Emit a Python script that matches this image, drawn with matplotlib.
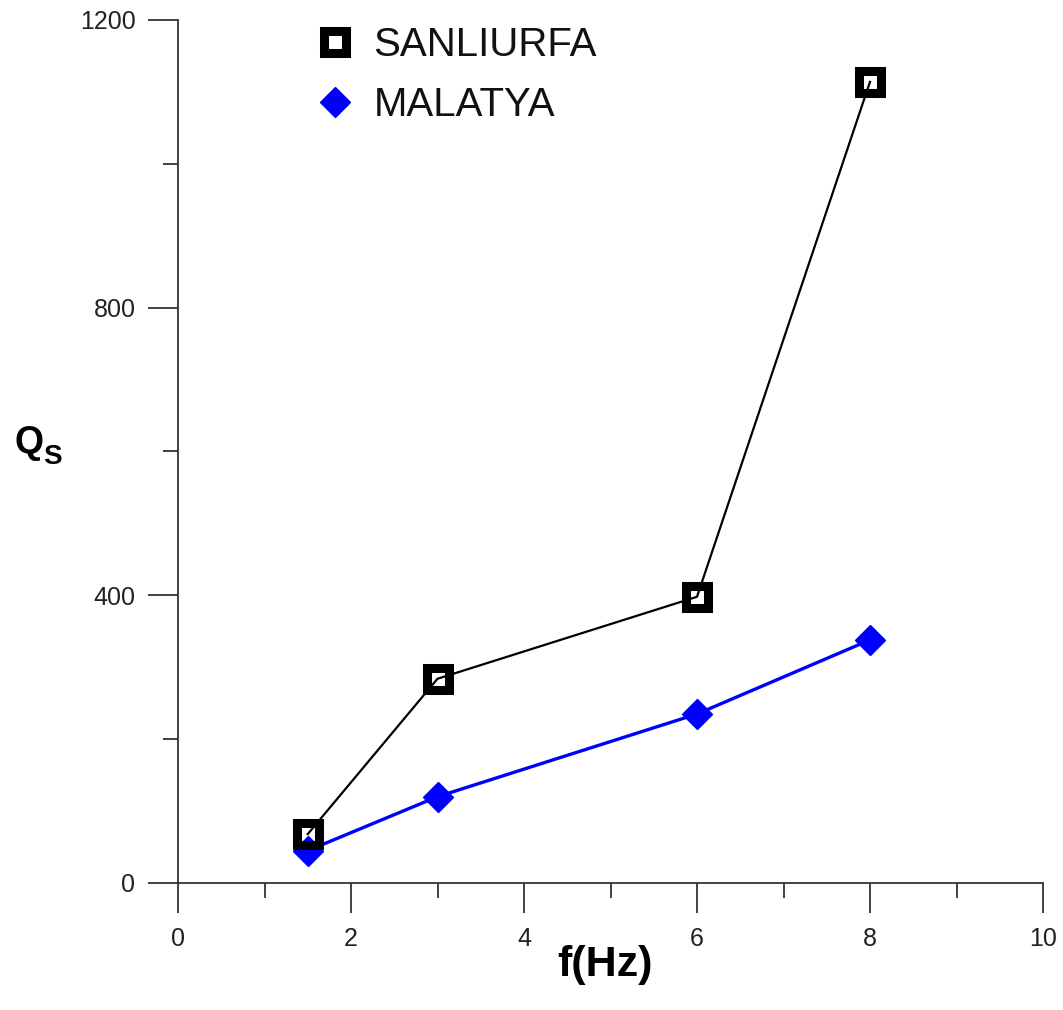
import matplotlib
matplotlib.use("Agg")
import matplotlib.pyplot as plt
from matplotlib.ticker import MultipleLocator

plt.rcParams['font.family'] = ['Liberation Sans', 'DejaVu Sans']

freq = [1.5, 3, 6, 8]
sanliurfa = [68, 284, 398, 1114]
malatya = [45, 120, 235, 338]
x_ticks = [0, 2, 4, 6, 8, 10]
y_ticks = [0, 400, 800, 1200]

W, H = 1063, 1010
fig = plt.figure(figsize=(W / 100, H / 100), dpi=100)
ax = fig.add_axes([178 / W, 1 - 883 / H, (1043 - 178) / W, (883 - 20) / H])

ax.plot(freq, malatya, color='#0000ff', lw=2.4, marker='D', ms=15.5,
        mfc='#0000ff', mec='#0000ff', mew=1, label='MALATYA', zorder=3, clip_on=False)
ax.plot(freq, sanliurfa, color='black', lw=0, marker='s', ms=15.8,
        mfc='none', mec='black', mew=6.5, zorder=4, clip_on=False)
ax.plot(freq, sanliurfa, color='black', lw=1.6, zorder=5, clip_on=False)
h_s, = ax.plot([], [], lw=0, marker='s', ms=15.8, mfc='none', mec='black', mew=6.5)
h_m, = ax.plot([], [], lw=0, marker='D', ms=15.5, mfc='#0000ff', mec='#0000ff', mew=1)

ax.set_xlim(0, 10)
ax.set_ylim(0, 1200)
ax.set_xticks(x_ticks)
ax.set_yticks(y_ticks)
ax.xaxis.set_minor_locator(MultipleLocator(1))
ax.yaxis.set_minor_locator(MultipleLocator(200))

for s in ['top', 'right']:
    ax.spines[s].set_visible(False)
for s in ['left', 'bottom']:
    ax.spines[s].set_color('#333333')
    ax.spines[s].set_linewidth(1.3)

ax.tick_params(which='major', direction='out', length=21.6, width=1.3, color='#333333',
               labelsize=18, labelcolor='#222222')
ax.tick_params(which='minor', direction='out', length=10.8, width=1.3, color='#333333')
ax.tick_params(axis='x', which='major', pad=10)
ax.tick_params(axis='y', which='major', pad=9)

fig.text(557 / W, 1 - 965 / H, 'f(Hz)', fontsize=31, fontweight='bold', va='center', ha='left')
fig.text(15 / W, 1 - 443 / H, 'Q', fontsize=27, fontweight='bold', va='center', ha='left')
fig.text(43 / W, 1 - 457 / H, 'S', fontsize=20, fontweight='bold', va='center', ha='left')

leg = ax.legend([h_s, h_m], ['SANLIURFA', 'MALATYA'], frameon=False, fontsize=29,
                loc='upper left', bbox_to_anchor=(313 / W, 1 - 26 / H),
                bbox_transform=fig.transFigure, handlelength=1.1, handletextpad=0.4,
                labelspacing=0.55, borderpad=0, borderaxespad=0)
for t in leg.get_texts():
    t.set_color('#111111')

fig.savefig('out.png', dpi=100)
